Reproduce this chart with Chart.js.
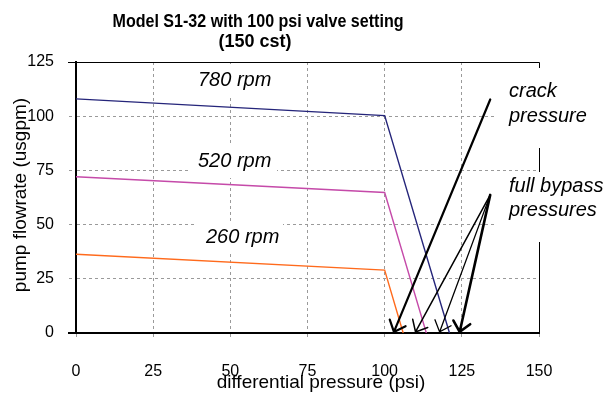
<!DOCTYPE html>
<html>
<head>
<meta charset="utf-8">
<script src="https://cdn.jsdelivr.net/npm/chart.js@4.4.0/dist/chart.umd.min.js"></script>
<style>
  html, body { margin: 0; padding: 0; background: #fff; }
  #wrap { width: 613px; height: 394px; }
</style>
</head>
<body>
<div id="wrap"><canvas id="pump" width="613" height="394"></canvas></div>
<script>
// values: differential pressure (psi) vs pump flowrate (usgpm)
const pressure780 = [0, 100, 121]
const flow780 = [108, 100.3, 0]
const pressure520 = [0, 100, 113.5]
const flow520 = [72.1, 64.8, 0]
const pressure260 = [0, 100, 106]
const flow260 = [36.3, 29, 0]
const seriesLabels = ['780 rpm', '520 rpm', '260 rpm']
const xTicks = [0, 25, 50, 75, 100, 125, 150]
const yTicks = [0, 25, 50, 75, 100, 125]

// annotation arrows, tail -> tips (psi, usgpm)
const crackTail = [134.2, 107.7]
const crackTips = [[103, 0.5]]
const bypassTail = [134.2, 63.7]
const bypassTips = [[110, 0.5], [117.8, 0.5], [124.3, 0.5]]

const FONT = '"Liberation Sans", Arial, sans-serif'
const GRID = '#9a9a9a'

const toPoints = (xs, ys) => xs.map((x, i) => ({ x: x, y: ys[i] }))

// squeeze a line of text to a given width (the original title is condensed)
function fitText(ctx, text, cx, y, width) {
  const w = ctx.measureText(text).width
  const k = Math.min(1, width / w)
  ctx.save()
  ctx.translate(cx, y)
  ctx.scale(k, 1)
  ctx.fillText(text, 0, 0)
  ctx.restore()
}

//! text + arrows drawn over the chart
const annotations = {
  id: 'annotations',
  beforeDatasetsDraw(chart) {
    const { ctx, chartArea: a } = chart
    ctx.save()
    // thin top / right frame
    ctx.strokeStyle = '#000'
    ctx.lineWidth = 1
    ctx.beginPath()
    ctx.moveTo(68, a.top + 0.5)
    ctx.lineTo(a.right + 0.5, a.top + 0.5)
    ctx.lineTo(a.right + 0.5, a.bottom)
    ctx.stroke()

    // white label boxes (hide grid behind text)
    ctx.fillStyle = '#fff'
    ;[[190, 64, 86, 31], [188, 143, 89, 35], [197, 222, 86, 31], [497, 68, 116, 80], [497, 172, 116, 70]]
      .forEach(r => ctx.fillRect(r[0], r[1], r[2], r[3]))

    ctx.fillStyle = '#000'
    ctx.font = 'italic 20px ' + FONT
    ctx.textAlign = 'left'
    ctx.textBaseline = 'alphabetic'
    ctx.fillText(seriesLabels[0], 198, 86)
    ctx.fillText(seriesLabels[1], 198, 167)
    ctx.fillText(seriesLabels[2], 206, 243)
    ctx.fillText('crack', 509, 97)
    ctx.fillText('pressure', 509, 121.5)
    ctx.fillText('full bypass', 509, 191.5)
    ctx.fillText('pressures', 509, 215.5)
    ctx.restore()
  },
  afterDatasetsDraw(chart) {
    const { ctx, scales: { x, y } } = chart
    const arrow = (tail, tip, w) => {
      const x1 = x.getPixelForValue(tail[0]), y1 = y.getPixelForValue(tail[1])
      const x2 = x.getPixelForValue(tip[0]), y2 = y.getPixelForValue(tip[1])
      const ang = Math.atan2(y2 - y1, x2 - x1)
      const len = 13, spread = 0.72
      ctx.lineWidth = w
      ctx.beginPath()
      ctx.moveTo(x1, y1)
      ctx.lineTo(x2, y2)
      ctx.moveTo(x2 - len * Math.cos(ang - spread), y2 - len * Math.sin(ang - spread))
      ctx.lineTo(x2, y2)
      ctx.lineTo(x2 - len * Math.cos(ang + spread), y2 - len * Math.sin(ang + spread))
      ctx.stroke()
    }
    ctx.save()
    ctx.strokeStyle = '#000'
    ctx.lineCap = 'round'
    ctx.lineJoin = 'miter'
    arrow(crackTail, crackTips[0], 2.2)
    arrow(bypassTail, bypassTips[0], 1.5)
    arrow(bypassTail, bypassTips[1], 1.3)
    arrow(bypassTail, bypassTips[2], 2.6)
    ctx.restore()
  },
  afterDraw(chart) {
    const { ctx, chartArea: a } = chart
    ctx.save()
    ctx.fillStyle = '#000'
    // black tick at 0 on the y axis
    ctx.fillRect(68, a.bottom - 1, a.left - 68, 2)

    ctx.textAlign = 'center'
    ctx.font = 'bold 18px ' + FONT
    fitText(ctx, 'Model S1-32 with 100 psi valve setting', 258, 26.5, 291)
    fitText(ctx, '(150 cst)', 255, 46.5, 76)

    ctx.font = '19px ' + FONT
    ctx.fillText('differential pressure (psi)', 321, 388)
    ctx.translate(26, 195)
    ctx.rotate(-Math.PI / 2)
    ctx.fillText('pump flowrate (usgpm)', 0, 0)
    ctx.restore()
  }
}

const chart = document.getElementById('pump')
new Chart(chart, {
  type: 'line',
  data: {
    datasets: [
      { label: seriesLabels[0], data: toPoints(pressure780, flow780), borderColor: '#25257a' },
      { label: seriesLabels[1], data: toPoints(pressure520, flow520), borderColor: '#c54aa9' },
      { label: seriesLabels[2], data: toPoints(pressure260, flow260), borderColor: '#ff6a1c' }
    ]
  },
  options: {
    responsive: false,
    animation: false,
    events: [],
    elements: {
      line: { borderWidth: 1.4, tension: 0, fill: false },
      point: { radius: 0 }
    },
    layout: {
      padding: { left: 0, top: 62, right: 74, bottom: 0 }
    },
    plugins: {
      legend: { display: false },
      tooltip: { enabled: false },
      title: { display: false }
    },
    scales: {
      x: {
        type: 'linear',
        min: 0,
        max: 150,
        afterBuildTicks: s => { s.ticks = xTicks.map(v => ({ value: v })) },
        afterFit: s => { s.height = 61 },
        ticks: {
          color: '#000',
          font: { family: FONT, size: 16 },
          padding: 25,
          maxRotation: 0
        },
        grid: {
          color: c => (c.tick.value === 0 || c.tick.value === 150) ? 'rgba(0,0,0,0)' : GRID,
          lineWidth: 1,
          tickLength: 4,
          tickColor: GRID,
          tickBorderDash: [3, 3]
        },
        border: { display: true, color: '#000', width: 2, dash: [3, 3] }
      },
      y: {
        min: 0,
        max: 125,
        afterBuildTicks: s => { s.ticks = yTicks.map(v => ({ value: v })) },
        afterFit: s => { s.width = 76 },
        ticks: {
          color: '#000',
          font: { family: FONT, size: 16 },
          padding: 15
        },
        grid: {
          color: c => (c.tick.value === 0 || c.tick.value === 125) ? 'rgba(0,0,0,0)' : GRID,
          lineWidth: 1,
          tickLength: 7,
          tickColor: c => (c.tick.value === 0 || c.tick.value === 125) ? 'rgba(0,0,0,0)' : GRID,
          tickBorderDash: [3, 3]
        },
        border: { display: true, color: '#000', width: 2, dash: [3, 3] }
      }
    }
  },
  plugins: [annotations]
})
</script>
</body>
</html>
